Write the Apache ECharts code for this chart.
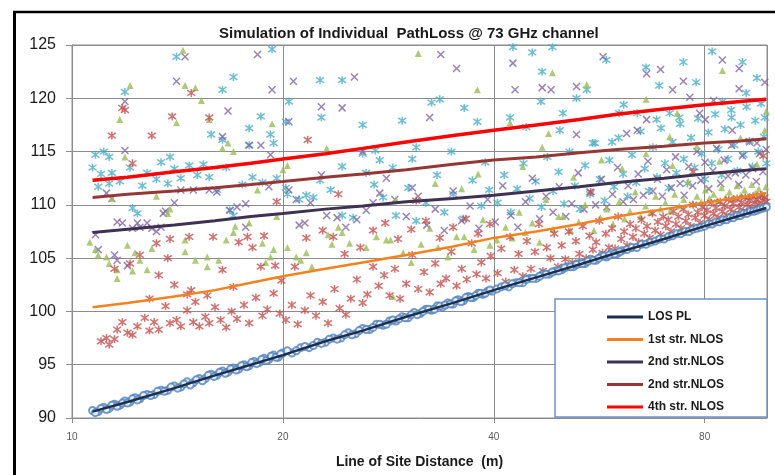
<!DOCTYPE html>
<html>
<head>
<meta charset="utf-8">
<script src="https://cdn.jsdelivr.net/npm/echarts@6/dist/echarts.min.js"></script>
<style>
  html, body { margin: 0; padding: 0; background: #fff; }
  #chart { width: 775px; height: 475px; }
</style>
</head>
<body>
<div id="chart"></div>
<script>
  // x ticks (log2 spaced distances) and y ticks
  var xTicks = [10, 20, 40, 80];
  var yTicks = [90, 95, 100, 105, 110, 115, 120, 125];

  // fitted path loss lines
  var lineDist = [10.7, 12, 14, 16, 18, 20, 23, 26, 30, 35, 40, 46, 53, 60, 70, 80, 90, 98];
  var losPL  = [90.6, 91.5, 92.8, 94.0, 95.0, 95.9, 97.2, 98.2, 99.5, 100.8, 102.0, 103.2, 104.4, 105.5, 106.8, 108.0, 109.0, 109.7];
  var nlos1  = [100.4, 100.8, 101.4, 102.0, 102.7, 103.3, 104.0, 104.6, 105.3, 106.1, 106.9, 107.5, 108.2, 108.9, 109.6, 110.2, 110.7, 111.1];
  var nlos2  = [107.4, 107.7, 108.1, 108.5, 108.9, 109.2, 109.6, 109.9, 110.3, 110.6, 110.9, 111.3, 111.7, 112.1, 112.5, 112.9, 113.2, 113.4];
  var nlos3  = [110.7, 111.0, 111.3, 111.6, 111.9, 112.2, 112.6, 112.9, 113.3, 113.8, 114.2, 114.5, 114.9, 115.2, 115.5, 115.8, 116.0, 116.2];
  var nlos4  = [112.3, 112.6, 113.1, 113.5, 113.9, 114.3, 114.8, 115.3, 115.9, 116.5, 117.0, 117.5, 118.0, 118.5, 119.0, 119.4, 119.7, 119.9];

  // simulated LOS samples [distance, PL]
  var losPoints = [[10.7,90.7],[10.9,90.6],[11.1,91.0],[11.3,90.9],[11.5,91.3],[11.7,91.2],[11.9,91.6],[12.1,91.5],[12.3,91.9],[12.5,91.8],[12.8,92.2],[13.1,92.2],[13.4,92.6],[13.7,92.6],[14.0,93.0],[14.3,92.9],[14.6,93.4],[14.9,93.3],[15.2,93.7],[15.5,93.7],[15.8,94.1],[16.1,94.0],[16.4,94.4],[16.7,94.3],[17.0,94.7],[17.3,94.6],[17.6,95.0],[17.9,94.9],[18.2,95.3],[18.5,95.2],[18.8,95.6],[19.1,95.5],[19.4,95.9],[19.7,95.7],[20.0,96.1],
    [10.8,90.5],[11.0,90.9],[11.2,90.8],[11.4,91.2],[11.6,91.1],[11.8,91.4],[12.0,91.4],[12.2,91.8],[12.4,91.7],[12.65,92.1],[12.95,92.1],[13.25,92.5],[13.55,92.5],[13.85,92.9],[14.15,92.8],[14.45,93.2],[14.75,93.1],[15.05,93.6],[15.35,93.5],[15.65,94.0],[15.95,93.9],[16.25,94.3],[16.55,94.2],[16.85,94.6],[17.15,94.5],[17.45,94.9],[17.75,94.8],[18.05,95.2],[18.35,95.1],[18.65,95.5],[18.95,95.4],[19.25,95.8],[19.55,95.7],[19.85,96.0],
    [20.6,96.1],[21.2,96.6],[21.8,96.6],[22.4,97.1],[23.0,97.1],[23.6,97.5],[24.2,97.5],[24.8,98.0],[25.4,97.9],[26.0,98.4],[26.6,98.3],[27.2,98.8],[27.8,98.7],[28.4,99.1],[29.0,99.1],[29.6,99.5],[30.2,99.4],[30.8,99.9],[31.4,99.8],[32.0,100.2],[32.6,100.1],[33.2,100.5],[33.8,100.4],[34.4,100.8],[35.0,100.7],[35.6,101.1],[36.2,101.0],[36.8,101.4],[37.4,101.3],[38.0,101.7],[38.6,101.6],[39.2,101.9],[39.8,101.9],
    [20.3,96.3],[20.9,96.3],[21.5,96.7],[22.1,96.8],[22.7,97.0],[23.3,97.4],[23.9,97.4],[24.5,97.8],[25.1,97.8],[25.7,98.2],[26.3,98.3],[26.9,98.5],[27.5,98.8],[28.1,98.8],[28.7,99.2],[29.3,99.3],[29.9,99.4],[30.5,99.7],[31.1,99.7],[31.7,100.0],[32.3,100.2],[32.9,100.2],[33.5,100.5],[34.1,100.6],[34.7,100.7],[35.3,101.0],[35.9,100.9],[36.5,101.3],[37.1,101.3],[37.7,101.5],[38.3,101.7],[38.9,101.7],[39.5,102.0],[40.4,102.1],
    [41,102.3],[42,102.3],[43,102.7],[44,102.7],[45,103.1],[46,103.1],[47,103.5],[48,103.5],[49,103.8],[50,103.9],[51,104.2],[52,104.2],[53,104.5],[54,104.5],[55,104.9],[56,104.8],[57,105.2],[58,105.1],[59,105.5],[60,105.4],[61,105.7],[62,105.8],[63,106.0],[64,106.0],[65,106.3],[66,106.3],[67,106.5],[68,106.6],[69,106.8],[70,106.8],[71,107.0],[72,107.1],[73,107.3],[74,107.3],[75,107.5],[76,107.5],[77,107.7],[78,107.8],[79,107.9],[80,108.0],[81,108.2],[82,108.2],[83,108.4],[84,108.4],[85,108.6],[86,108.6],[87,108.8],[88,108.8],[89,109.0],[90,109.0],[91,109.2],[92,109.2],[93,109.4],[94,109.4],[95,109.5],[96,109.6],[97,109.7],[98,109.8],
    [41.5,102.4],[42.5,102.6],[43.5,102.7],[44.5,103.0],[45.5,103.1],[46.5,103.3],[47.5,103.5],[48.5,103.7],[49.5,103.8],[50.5,104.1],[51.5,104.2],[52.5,104.4],[53.5,104.5],[54.5,104.7],[55.5,104.8],[56.5,105.0],[57.5,105.2],[58.5,105.3],[59.5,105.4],[60.5,105.6]];

  // red asterisks
  var redPoints = [[11.0,97.2],[11.2,97.5],[11.3,96.9],[11.5,97.4],[11.6,98.3],[11.8,99.0],[12.0,98.0],[12.2,97.8],[12.4,98.6],[12.7,99.4],[12.9,98.2],[13.1,99.0],[13.3,98.3],[13.6,100.5],[13.8,98.9],[14.1,99.2],[14.3,98.6],[14.6,100.1],[14.9,99.0],[15.2,98.6],[15.5,99.5],[15.7,98.9],[16.0,100.4],[16.3,99.2],[16.6,98.5],[16.9,100.0],[17.2,99.3],[17.6,100.6],[17.9,98.9],[18.3,101.3],[18.7,99.6],[19.0,100.2],[19.4,101.7],[19.8,99.8],
    [11.5,104.0],[12.1,104.5],[12.5,105.3],[13.3,103.4],[14.0,102.5],[14.8,102.0],[15.6,101.5],[16.4,103.9],[17.3,106.5],[18.1,106.0],[18.8,107.1],[19.5,104.3],[19.9,102.9],[12.9,101.2],[15.0,100.9],[17.0,102.3],[13.7,105.0],[13.8,106.8],[14.7,107.0],[15.9,107.0],[17.8,107.0],[13.2,106.4],[18.6,104.2],[14.6,101.6],
    [11.4,116.5],[11.8,119.1],[13.0,116.5],[13.9,118.3],[14.8,120.5],[15.7,118.2],[21.7,116.1],[11.9,118.9],[12.2,113.9],[19.6,110.3],
    [20.2,99.2],[20.6,100.6],[21.0,98.8],[21.5,100.1],[21.9,101.5],[22.3,99.6],[22.8,100.9],[23.2,98.9],[23.7,102.1],[24.1,100.3],[24.6,99.7],[25.0,101.2],[25.5,103.0],[26.0,100.8],[26.4,101.6],[26.9,104.2],[27.4,102.4],[27.9,103.4],[28.4,101.5],[28.9,104.0],[29.4,101.2],[30.0,102.6],[30.6,105.3],[31.2,102.1],[31.8,103.7],[32.4,101.8],[33.0,104.5],[33.6,102.6],[34.2,103.1],[34.8,105.6],[35.4,102.4],[36.0,104.0],[36.6,103.0],[37.2,106.4],[37.8,103.5],[38.4,104.6],[39.0,103.1],[39.6,105.2],
    [20.8,104.2],[21.6,106.9],[22.8,107.6],[23.6,107.0],[24.5,105.4],[25.8,106.0],[26.9,107.6],[28.0,108.3],[29.2,106.8],[30.5,107.7],[32.0,108.5],[33.5,106.9],[35.0,107.9],[36.5,108.7],[38.0,107.3],[39.5,108.2],[24.0,111.0],[31.0,110.4],
    [40.5,103.6],[41.0,105.9],[41.6,102.8],[42.2,107.0],[42.8,103.9],[43.4,105.4],[44.0,103.3],[44.6,106.6],[45.2,104.0],[45.8,105.6],[46.4,108.2],[47.0,103.8],[47.6,106.0],[48.2,105.0],[48.8,107.3],[49.4,104.2],[50.0,106.2],[50.6,104.9],[51.2,107.5],[51.8,104.6],[52.4,106.6],[53.0,105.4],[53.6,108.0],[54.2,105.0],[54.8,107.1],[55.4,105.8],[56.0,106.5],[56.6,108.5],[57.2,105.5],[57.8,107.3],[58.4,106.0],[59.0,107.8],[59.6,105.9],[60.2,108.9],[60.8,106.8],[61.4,107.5],[62.0,106.2],[62.6,108.2],[63.2,107.0],[63.8,107.8],[64.4,106.5],[65.0,108.6],[65.6,107.3],[66.2,108.0],[66.8,106.9],[67.4,109.2],[68.0,107.6],[68.6,108.4],[69.2,107.2],[69.8,108.9],[70.4,108.0],[71.0,108.6],[71.6,107.5],[72.2,109.4],[72.8,108.2],[73.4,108.9],[74.0,107.8],[74.6,109.6],[75.2,108.5],[75.8,109.1],[76.4,108.0],[77.0,110.0],[77.6,108.8],[78.2,109.3],[78.8,108.3],[79.4,109.8],[80.0,109.0],[80.6,109.5],[81.2,108.6],[81.8,110.2],[82.4,109.2],[83.0,109.7],[83.6,108.8],[84.2,110.3],[84.8,109.4],[85.4,109.9],[86.0,109.0],[86.6,110.5],[87.2,109.6],[87.8,110.1],[88.4,109.2],[89.0,110.6],[89.6,109.8],[90.2,110.2],[90.8,109.4],[91.4,110.7],[92.0,110.0],[92.6,110.4],[93.2,109.7],[93.8,110.8],[94.4,110.2],[95.0,110.5],[95.6,110.0],[96.2,110.9],[96.8,110.4],[97.4,110.7],[98.0,110.3],
    [77.0,113.1],[97.0,114.6],[55.0,111.2]];

  // green triangles
  var greenPoints = [[10.6,106.5],[10.8,105.8],[10.9,105.3],[11.2,105.1],[11.3,104.5],[11.6,103.9],[12.0,106.2],[12.3,105.5],[12.5,104.8],[12.8,103.9],[13.0,105.9],[13.7,109.2],[13.8,109.6],[14.5,106.7],[14.5,105.6],[15.0,104.8],[15.6,105.1],[15.6,104.2],[16.2,104.8],[16.6,106.7],[17.0,107.4],[17.1,108.0],[17.9,108.3],[18.4,111.4],[18.7,106.4],[18.9,104.6],[19.2,105.1],[19.4,105.8],[19.6,108.9],[20.0,113.3],[20.3,113.7],[20.3,106.0],[20.9,105.1],[21.2,104.8],[21.6,105.5],[22.0,104.2],[23.2,107.2],[23.5,106.3],[24.0,107.9],[24.3,107.4],[24.9,106.4],[26.3,106.0],[27.2,107.0],[28.7,101.4],[11.6,103.1],[12.2,103.8],[11.4,110.6],[13.2,110.8],
    [12.1,121.2],[11.7,118.0],[14.4,124.5],[14.5,121.2],[15.0,121.0],[15.3,119.8],[15.7,118.0],[14.1,117.7],[19.3,117.6],[16.7,115.8],[16.4,115.3],[17.0,115.0],[11.9,114.5],[23.1,115.3],
    [31.2,124.2],[37.9,120.8],[48.5,122.4],[54.3,121.3],[66.0,119.9],[73.1,118.6],[84.8,122.6],[98.0,118.8],[42.2,117.7],[47.9,116.7],[71.3,116.4],[46.9,115.4],
    [28.1,106.7],[28.5,106.7],[29.7,105.5],[30.5,104.6],[31.5,106.3],[32.4,107.8],[33.3,106.0],[34.4,105.1],[35.4,107.0],[36.3,107.0],[37.5,105.8],[38.6,108.6],[39.5,106.2],[40.4,106.7],[41.6,107.9],[42.5,106.9],[43.5,109.3],[44.4,107.4],[45.4,108.3],[46.5,106.5],[47.5,110.5],[48.6,107.7],[49.5,108.9],[50.2,108.9],[51.5,107.6],[52.9,108.4],[54.0,110.0],[55.6,107.6],[56.8,108.8],[58.0,109.6],[59.2,108.2],[60.4,110.3],[61.5,108.7],[62.6,109.4],[63.7,111.2],[64.8,108.9],[65.9,109.9],[67.0,109.3],[68.1,110.8],[69.2,109.6],[70.3,110.2],[71.4,109.4],[72.5,111.0],[73.6,109.9],[74.7,110.5],[75.8,112.2],[76.9,110.1],[78.0,110.8],[79.1,110.3],[80.2,111.4],[81.3,110.6],[82.4,111.0],[83.5,110.4],[84.6,111.6],[85.7,110.7],[86.8,111.2],[87.9,110.6],[89.0,111.8],[90.1,110.9],[91.2,111.4],[92.3,110.8],[93.4,111.9],[94.5,111.1],[95.6,111.5],[96.7,111.0],[97.8,111.7],
    [29.0,110.5],[33.0,112.0],[36.0,111.5],[38.0,112.9],[44.0,113.6],[52.0,112.6],[57.0,114.2],[61.0,113.4],[66.0,114.8],[72.0,113.7],[78.0,115.5],[84.0,114.1],[90.0,116.3],[95.0,113.8],[97.5,117.0]];

  // purple crosses
  var purplePoints = [[10.8,107.2],[10.9,105.8],[11.2,111.1],[11.4,110.6],[11.6,108.4],[11.8,108.3],[11.5,105.3],[11.6,104.8],[12.2,107.8],[12.5,107.9],[12.8,108.3],[13.0,107.8],[13.2,107.5],[13.5,109.2],[13.6,109.4],[12.4,108.3],[13.4,107.9],[14.3,111.4],[14.9,111.4],[15.7,111.4],[16.8,109.5],[17.2,109.8],[17.7,110.1],[16.1,111.2],[17.7,107.9],[19.1,111.7],[20.4,111.4],[20.9,110.5],[21.1,108.1],[21.5,108.3],[21.9,110.2],[22.7,112.8],[23.1,109.0],[23.9,108.8],[24.6,107.9],[25.5,108.6],[26.3,109.5],[26.9,110.2],[27.5,111.1],[28.1,112.5],[28.9,110.5],[12.0,104.3],[14.0,110.2],
    [11.9,115.1],[11.9,119.7],[14.1,121.6],[14.5,123.9],[16.7,118.8],[16.4,116.4],[17.9,115.6],[18.6,115.6],[18.4,124.1],[19.3,120.8],[19.2,114.7],[20.4,117.8],[20.7,121.6],[22.7,119.2],[24.3,119.1],[25.3,122.0],[26.0,115.0],
    [33.6,124.1],[35.4,122.8],[42.6,123.3],[42.9,120.8],[46.9,121.0],[48.3,120.8],[52.5,121.1],[57.3,123.9],[66.1,122.3],[69.2,122.7],[74.6,121.6],[84.8,123.6],[89.6,122.8],[97.5,121.5],[89.6,120.9],[32.4,118.2],[52.5,116.6],[61.9,116.7],[64.1,117.0],[66.1,118.0],[72.0,120.8],[76.2,120.1],[78.7,118.6],[80.2,118.0],[82.4,119.8],[95.0,115.8],[87.6,117.0],
    [30.0,108.9],[31.2,110.8],[32.1,108.1],[33.0,109.6],[34.0,107.6],[35.0,111.3],[36.0,108.5],[37.0,109.9],[38.1,107.8],[39.2,110.5],[40.2,108.4],[41.2,111.8],[42.3,109.0],[43.3,107.9],[44.4,110.3],[45.4,112.5],[46.5,108.7],[47.5,110.8],[48.6,109.3],[49.6,111.7],[50.7,108.9],[51.7,110.1],[52.8,113.0],[53.8,109.6],[54.9,111.2],[55.9,110.0],[57.0,112.4],[58.0,109.8],[59.1,111.0],[60.1,113.5],[61.2,110.3],[62.2,111.8],[63.3,110.5],[64.3,112.9],[65.4,110.9],[66.4,114.1],[67.5,111.3],[68.5,112.4],[69.6,110.8],[70.6,113.3],[71.7,111.6],[72.7,114.5],[73.8,112.0],[74.8,110.9],[75.9,113.6],[76.9,111.8],[78.0,115.0],[79.0,112.3],[80.1,114.0],[81.1,111.5],[82.2,113.2],[83.2,115.3],[84.3,112.0],[85.3,114.2],[86.4,112.7],[87.4,115.6],[88.5,113.0],[89.5,111.9],[90.6,114.6],[91.6,112.8],[92.7,115.9],[93.7,113.4],[94.8,112.2],[95.8,114.8],[96.9,113.1],[97.9,115.2],[30.6,111.6]];

  // cyan asterisks
  var cyanPoints = [[10.7,113.5],[11.0,112.9],[10.9,111.7],[11.3,112.0],[11.4,113.0],[12.1,113.5],[12.2,109.7],[12.4,109.2],[12.8,113.0],[13.2,112.4],[13.7,112.0],[14.0,113.4],[14.3,112.5],[14.7,113.7],[15.1,112.8],[15.7,112.6],[16.1,111.4],[16.6,113.5],[16.8,109.5],[17.0,109.0],[17.5,111.9],[18.1,112.6],[18.7,112.1],[19.6,112.5],[20.2,111.6],[20.3,111.0],[21.1,110.5],[21.6,110.9],[22.1,110.7],[22.6,112.3],[23.4,111.4],[24.3,113.6],[24.3,109.0],[25.2,108.8],[26.3,113.0],[27.0,111.9],[27.8,110.7],[28.7,113.5],[11.7,112.2],[12.6,111.8],[13.4,114.0],[15.4,113.8],
    [10.8,114.7],[11.1,115.0],[11.3,114.5],[11.9,120.6],[13.8,114.5],[14.1,123.9],[16.4,120.8],[17.0,122.0],[15.8,116.6],[16.4,116.1],[17.9,117.2],[17.9,115.6],[18.6,118.3],[19.2,116.6],[19.4,115.8],[19.3,124.6],[20.2,117.8],[20.4,119.7],[22.6,121.7],[22.7,118.2],[24.3,121.7],[26.0,117.5],[26.0,114.8],[27.1,115.1],[27.5,114.2],
    [29.6,117.9],[32.6,119.6],[33.5,119.9],[36.3,119.1],[37.9,117.8],[31.0,115.4],[42.6,124.8],[45.4,124.3],[48.5,124.8],[46.9,122.5],[46.7,119.7],[52.5,120.0],[54.3,120.8],[57.9,123.6],[61.3,119.4],[66.0,122.9],[68.9,121.2],[74.6,123.4],[77.8,121.5],[82.0,124.4],[90.6,123.4],[95.0,121.9],[91.7,120.5],[84.8,119.7],[71.3,118.6],[68.3,118.0],[64.1,118.6],[60.4,118.6],[50.2,118.6],[44.5,117.3],[42.2,118.2],[49.7,117.0],[55.4,115.8],[59.0,115.9],[73.6,118.2],[87.4,118.2],[97.5,118.2],
    [29.0,109.0],[30.2,111.6],[31.0,108.5],[32.0,110.2],[33.2,112.8],[34.0,109.3],[35.0,111.0],[36.2,108.7],[37.3,112.3],[38.4,109.9],[39.4,111.4],[30.6,114.3],[34.8,115.0],[38.9,114.0],
    [40.5,110.2],[41.4,112.8],[42.3,109.3],[43.2,111.5],[44.1,113.9],[45.0,110.6],[45.9,112.2],[46.8,109.8],[47.7,114.5],[48.6,111.3],[49.5,113.1],[50.4,110.1],[51.3,115.0],[52.2,111.8],[53.1,109.6],[54.0,113.7],[54.9,111.0],[55.8,115.8],[56.7,112.4],[57.6,110.4],[58.5,114.2],[59.4,111.7],[60.3,116.3],[61.2,112.9],[62.1,110.8],[63.0,114.7],[63.9,112.1],[64.8,116.9],[65.7,113.4],[66.6,111.3],[67.5,115.4],[68.4,112.6],[69.3,117.2],[70.2,113.9],[71.1,111.6],[72.0,115.9],[72.9,113.0],[73.8,117.6],[74.7,114.3],[75.6,112.0],[76.5,116.3],[77.4,113.5],[78.3,118.1],[79.2,114.8],[80.1,112.4],[81.0,116.8],[81.9,113.9],[82.8,118.5],[83.7,115.2],[84.6,112.8],[85.5,117.1],[86.4,114.3],[87.3,118.9],[88.2,115.6],[89.1,113.2],[90.0,117.5],[90.9,114.7],[91.8,119.2],[92.7,116.0],[93.6,113.6],[94.5,117.9],[95.4,115.0],[96.3,119.5],[97.2,116.4],[98.0,113.9]];

  var FONT = "'Liberation Sans', Arial, sans-serif";

  // x axis is log2 of distance / 10
  function toAxis(d) { return Math.log2(d / 10); }
  function pts(list) { return list.map(function (p) { return [toAxis(p[0]), p[1]]; }); }
  function linePts(vals) { return lineDist.map(function (d, i) { return [toAxis(d), vals[i]]; }); }

  var asterisk = 'path://M5,0 L5,10 M0.8,1.5 L9.2,8.5 M0.8,8.5 L9.2,1.5';
  var cross = 'path://M0,0 L10,10 M0,10 L10,0';

  function markSeries(data, symbol, size, color, stroke) {
    return {
      type: 'scatter',
      data: pts(data),
      symbol: symbol,
      symbolSize: size,
      z: 2,
      silent: true,
      itemStyle: stroke
        ? { color: 'rgba(0,0,0,0)', borderColor: color, borderWidth: 1.5 }
        : { color: color }
    };
  }

  function lineSeries(name, vals, color, width) {
    return {
      name: name,
      type: 'line',
      data: linePts(vals),
      symbol: 'none',
      z: 4,
      lineStyle: { color: color, width: width },
      itemStyle: { color: color }
    };
  }

  var chart = echarts.init(document.getElementById('chart'));
  chart.setOption({
    animation: false,
    backgroundColor: '#fff',
    title: {
      text: 'Simulation of Individual  PathLoss @ 73 GHz channel',
      left: 214,
      top: 21,
      textStyle: { fontSize: 15, fontWeight: 'bold', color: '#1a1a1a', fontFamily: FONT }
    },
    grid: { left: 72, top: 45, right: 8, bottom: 57, show: true, borderColor: '#8c8c8c', borderWidth: 1 },
    legend: {
      orient: 'vertical',
      left: 602,
      top: 305,
      icon: 'rect',
      itemWidth: 36,
      itemHeight: 3,
      itemGap: 8.5,
      z: 10,
      textStyle: { fontSize: 12, fontWeight: 'bold', color: '#1a1a1a', fontFamily: FONT, lineHeight: 14 },
      data: ['LOS PL', '1st str. NLOS', '2nd str.NLOS', '2nd str.NLOS ', '4th str. NLOS']
    },
    xAxis: {
      type: 'value',
      min: 0,
      max: toAxis(98.2),
      interval: 1,
      name: 'Line of Site Distance  (m)',
      nameLocation: 'middle',
      nameGap: 37,
      nameTextStyle: { fontSize: 14, fontWeight: 'bold', color: '#1a1a1a', fontFamily: FONT },
      axisLine: { lineStyle: { color: '#8c8c8c' } },
      axisTick: { show: true, length: 5, lineStyle: { color: '#8c8c8c' } },
      axisLabel: {
        fontSize: 10, color: '#595959', margin: 14, fontFamily: FONT, showMaxLabel: false,
        formatter: function (v) {
          var k = Math.round(v);
          return Math.abs(v - k) < 1e-6 && xTicks[k] ? String(xTicks[k]) : '';
        }
      },
      splitLine: { lineStyle: { color: '#8c8c8c' } }
    },
    yAxis: {
      type: 'value',
      min: yTicks[0],
      max: yTicks[yTicks.length - 1],
      interval: 5,
      axisLine: { show: true, lineStyle: { color: '#8c8c8c' } },
      axisTick: { show: true, length: 6, lineStyle: { color: '#8c8c8c' } },
      axisLabel: { fontSize: 16, color: '#1a1a1a', margin: 16, fontFamily: FONT },
      splitLine: { lineStyle: { color: '#8c8c8c' } }
    },
    graphic: [
      { type: 'line', z: 100, shape: { x1: 14.5, y1: 11, x2: 14.5, y2: 475 }, style: { stroke: '#000', lineWidth: 3 } },
      { type: 'line', z: 100, shape: { x1: 13, y1: 12, x2: 775, y2: 12 }, style: { stroke: '#000', lineWidth: 2.5 } },
      { type: 'rect', z: 5, shape: { x: 555, y: 299, width: 212, height: 118 }, style: { fill: '#fff', stroke: '#6f93c8', lineWidth: 1.5 } }
    ],
    series: [
      markSeries(cyanPoints, asterisk, 8, '#4BACC6', true),
      markSeries(purplePoints, cross, 7, '#8064A2', true),
      markSeries(greenPoints, 'triangle', 7, '#9BBB59', false),
      markSeries(redPoints, asterisk, 8, '#C0504D', true),
      {
        type: 'scatter',
        data: pts(losPoints),
        symbol: 'emptyCircle',
        symbolSize: 7,
        z: 3,
        silent: true,
        itemStyle: { color: '#4F81BD', borderColor: '#4F81BD', borderWidth: 1.6 }
      },
      lineSeries('LOS PL', losPL, '#1d2f4d', 2.5),
      lineSeries('1st str. NLOS', nlos1, '#F5821F', 2.5),
      lineSeries('2nd str.NLOS', nlos2, '#3F3151', 3),
      lineSeries('2nd str.NLOS ', nlos3, '#953735', 3),
      lineSeries('4th str. NLOS', nlos4, '#FF0000', 3.5)
    ]
  });
</script>
</body>
</html>
